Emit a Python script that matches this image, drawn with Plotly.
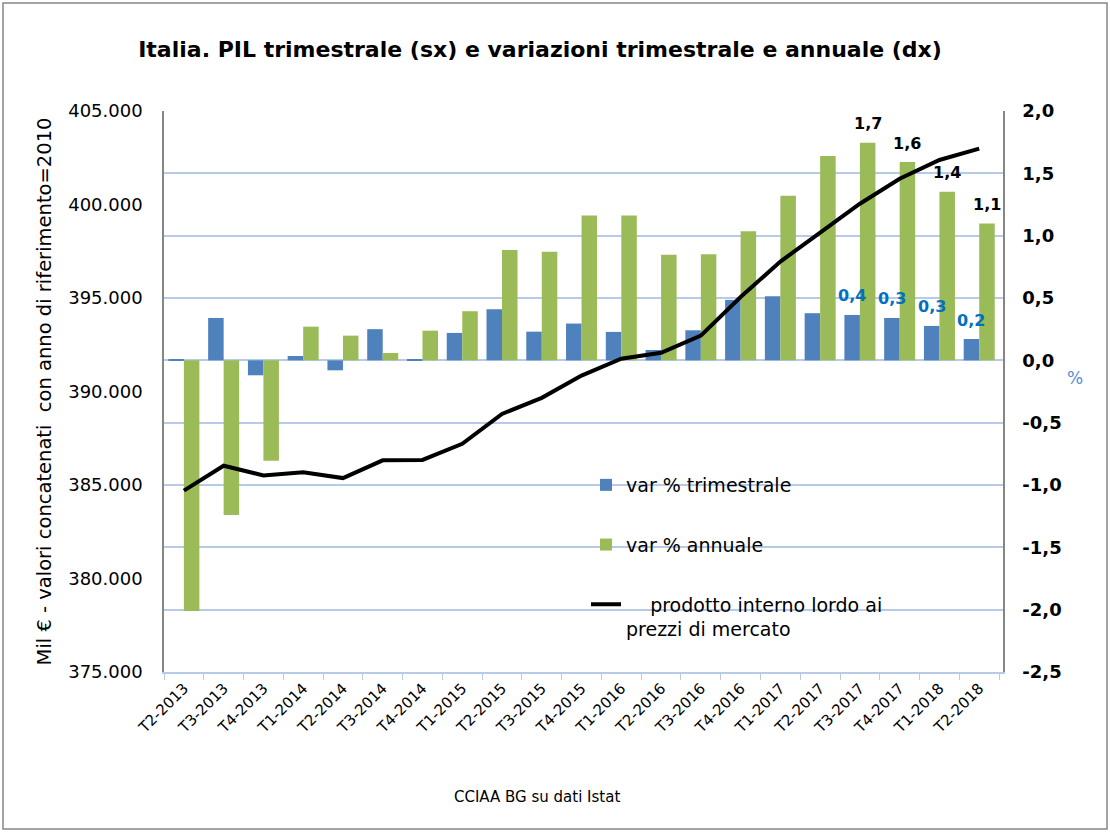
import plotly.graph_objects as go

# ---------------- data ----------------
quarters = ["T2-2013", "T3-2013", "T4-2013", "T1-2014", "T2-2014", "T3-2014", "T4-2014",
            "T1-2015", "T2-2015", "T3-2015", "T4-2015", "T1-2016", "T2-2016", "T3-2016",
            "T4-2016", "T1-2017", "T2-2017", "T3-2017", "T4-2017", "T1-2018", "T2-2018"]

pil = [384700, 386030, 385510, 385680, 385370, 386320, 386340,
       387200, 388800, 389660, 390850, 391750, 392070, 392990,
       395050, 396950, 398490, 400040, 401380, 402380, 402990]

var_trim = [0.01, 0.34, -0.12, 0.035, -0.08, 0.25, 0.01,
            0.22, 0.41, 0.23, 0.295, 0.228, 0.083, 0.241,
            0.485, 0.514, 0.378, 0.364, 0.34, 0.276, 0.171]

var_ann = [-2.01, -1.24, -0.806, 0.27, 0.198, 0.059, 0.238,
           0.394, 0.886, 0.87, 1.162, 1.162, 0.846, 0.851,
           1.036, 1.32, 1.639, 1.745, 1.59, 1.352, 1.098]

# labels shown only on the last four quarters
label_from = 17

right_ticks = [-2.5, -2.0, -1.5, -1.0, -0.5, 0.0, 0.5, 1.0, 1.5, 2.0]
left_ticks = [375000, 380000, 385000, 390000, 395000, 400000, 405000]

title_text = "Italia. PIL trimestrale (sx) e variazioni trimestrale e annuale (dx)"
left_title = "Mil € - valori concatenati  con anno di riferimento=2010"
footer = "CCIAA BG su dati Istat"
names = ["var % trimestrale", "var % annuale",
         "    prodotto interno lordo ai<br>prezzi di mercato"]


def fmt1(v):
    return f"{v:.1f}".replace(".", ",")


def fmt_thou(v):
    return f"{int(v):,}".replace(",", ".")


# ---------------- layout geometry ----------------
W, H = 1110, 832
ML, MR, MT, MB = 164, 107, 111, 160
PW, PH = W - ML - MR, H - MT - MB
BARGAP = 0.22


def px(x):
    return (x - ML) / PW


def py(y):
    return (H - MB - y) / PH


cat_w = PW / len(quarters)
bar_shift = cat_w * (1 - BARGAP) / 4

FONT = "DejaVu Sans"
BLUE = "#4F81BD"
GREEN = "#9BBB59"
GRID = "#B7CAE8"
AXIS = "#868686"

fig = go.Figure()

fig.add_trace(go.Bar(
    x=quarters, y=var_trim, name=names[0], yaxis="y",
    marker=dict(color=BLUE, line=dict(width=0)), legendgroup="a",
))
fig.add_trace(go.Bar(
    x=quarters, y=var_ann, name=names[1], yaxis="y",
    marker=dict(color=GREEN, line=dict(width=0)), legendgroup="b",
))
fig.add_trace(go.Scatter(
    x=quarters, y=pil, name=names[2], yaxis="y2", mode="lines",
    line=dict(color="#000000", width=4), legendgroup="c",
))

fig.update_layout(
    width=W, height=H,
    margin=dict(l=ML, r=MR, t=MT, b=MB),
    paper_bgcolor="white", plot_bgcolor="white",
    separators=",.",
    font=dict(family=FONT, color="#000000"),
    barmode="group", bargap=BARGAP, bargroupgap=0.0,
    title=dict(text=title_text, xref="container", yref="container",
               x=540 / W, y=1 - 49 / H, xanchor="center", yanchor="middle",
               font=dict(family=FONT, size=22, color="#000000", weight="bold")),
    xaxis=dict(
        type="category", tickangle=-45, tickfont=dict(size=15),
        showline=True, linecolor=GRID, linewidth=1.5,
        ticks="outside", tickson="boundaries", ticklen=6, tickcolor=GRID,
        showgrid=False, anchor="y",
    ),
    yaxis=dict(
        side="right", range=[-2.5, 2.0], tickvals=right_ticks,
        ticktext=[fmt1(v) for v in right_ticks],
        tickfont=dict(size=18, weight="bold"),
        showgrid=True, gridcolor=GRID, gridwidth=1.5,
        zeroline=False, showline=True, linecolor=AXIS, linewidth=1.5,
        ticks="", ticklabelstandoff=14,
    ),
    yaxis2=dict(
        side="left", overlaying="y", range=[375000, 405000], tickvals=left_ticks,
        ticktext=[fmt_thou(v) for v in left_ticks],
        tickfont=dict(size=18),
        showgrid=False, zeroline=False, showline=True, linecolor=AXIS, linewidth=1.5,
        ticks="", ticklabelstandoff=16,
        title=dict(text=left_title, font=dict(size=19.5), standoff=11),
    ),
    legend=dict(
        x=px(586), y=py(466), xanchor="left", yanchor="top",
        bgcolor="rgba(0,0,0,0)", font=dict(size=19),
        tracegroupgap=32, valign="top", traceorder="grouped",
    ),
    showlegend=True,
)

# value labels on the last quarters
for i in range(label_from, len(quarters)):
    fig.add_annotation(text=fmt1(var_trim[i]), x=quarters[i], y=var_trim[i],
                       xref="x", yref="y", xshift=-bar_shift, yshift=19,
                       showarrow=False, xanchor="center", yanchor="middle",
                       font=dict(family=FONT, size=16, color="#0070C0", weight="bold"))
    fig.add_annotation(text=fmt1(var_ann[i]), x=quarters[i], y=var_ann[i],
                       xref="x", yref="y", xshift=bar_shift, yshift=19,
                       showarrow=False, xanchor="center", yanchor="middle",
                       font=dict(family=FONT, size=16, color="#000000", weight="bold"))

fig.add_annotation(text="%", xref="paper", yref="paper", x=px(1075), y=py(378),
                   showarrow=False, font=dict(size=17, color="#558ED5"),
                   xanchor="center", yanchor="middle")
fig.add_annotation(text=footer, xref="paper", yref="paper", x=px(537), y=py(797),
                   showarrow=False, font=dict(size=15, color="#000000"),
                   xanchor="center", yanchor="middle")
fig.add_shape(type="rect", xref="paper", yref="paper",
              x0=px(3), x1=px(1107), y0=py(829), y1=py(3),
              line=dict(color=AXIS, width=1.5), fillcolor="rgba(0,0,0,0)", layer="below")

fig.write_html("out.html", config={"displayModeBar": False},
               post_script="document.body.style.margin='0';")
